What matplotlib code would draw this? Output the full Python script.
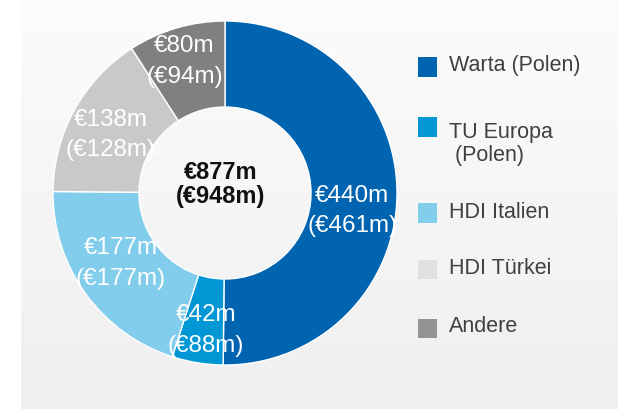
import matplotlib.pyplot as plt
import numpy as np
from matplotlib.patches import Rectangle

plt.rcParams["font.family"] = ["Liberation Sans", "DejaVu Sans"]

# data
segments = ["Warta (Polen)", "TU Europa\n (Polen)", "HDI Italien", "HDI Türkei", "Andere"]
values = [440, 42, 177, 138, 80]
prev_values = [461, 88, 177, 128, 94]
total = 877
prev_total = 948

slice_colors = ["#0064b0", "#0097d4", "#82cdec", "#c9c9c9", "#808080"]
legend_colors = ["#0064b0", "#0097d4", "#82cdec", "#e0e0e0", "#939393"]

W, H = 618, 409
fig = plt.figure(figsize=(W / 100, H / 100), dpi=100)
fig.patch.set_facecolor("white")

# light gradient panel behind everything
bg = fig.add_axes([21 / W, 0, 1 - 21 / W, 1])
grad = np.linspace(0.988, 0.937, 256).reshape(-1, 1)
bg.imshow(np.dstack([grad, grad, grad]), aspect="auto", extent=(0, 1, 0, 1))
bg.set_axis_off()

# donut: centre (225, 193) px, outer radius 172 px
cx, cy, R = 225, 193, 172
ax = fig.add_axes([(cx - R) / W, (H - cy - R) / H, 2 * R / W, 2 * R / H])
ax.set_axis_off()
wedges, _ = ax.pie(
    values,
    colors=slice_colors,
    startangle=90,
    counterclock=False,
    radius=1.0,
    wedgeprops=dict(width=0.5, edgecolor="white", linewidth=1.0),
)
ax.set_xlim(-1, 1)
ax.set_ylim(-1, 1)

# small nudges (fraction of radius) so labels sit like the original
nudge = [(-0.02, -0.10), (0.01, -0.05), (0.01, 0.035), (0.0, -0.03), (-0.02, 0.035)]
for w, v, pv, (dx, dy) in zip(wedges, values, prev_values, nudge):
    ang = np.deg2rad((w.theta1 + w.theta2) / 2)
    r = 0.76
    ax.text(r * np.cos(ang) + dx, r * np.sin(ang) + dy,
            f"€{v}m\n(€{pv}m)", ha="center", va="center",
            color="white", fontsize=17.5, linespacing=1.5)

ax.text(-0.025, 0.05, f"€{total}m\n(€{prev_total}m)", ha="center", va="center",
        color="#111111", fontsize=17, fontweight="bold", linespacing=1.05)

# legend drawn by hand (rows are unevenly spaced in the original)
row_y = [67, 127, 213, 269, 328]
sq = 19
for lab, col, y in zip(segments, legend_colors, row_y):
    fig.add_artist(Rectangle((418 / W, (H - y - sq / 2) / H), sq / W, sq / H,
                             transform=fig.transFigure, facecolor=col, edgecolor="none"))
    two_line = "\n" in lab
    fig.text(449 / W, (H - y + 1) / H if not two_line else (H - y + 5) / H,
             lab, ha="left", va="top" if two_line else "center",
             color="#404040", fontsize=15.5, linespacing=1.15)

fig.savefig("out.png", dpi=100)
